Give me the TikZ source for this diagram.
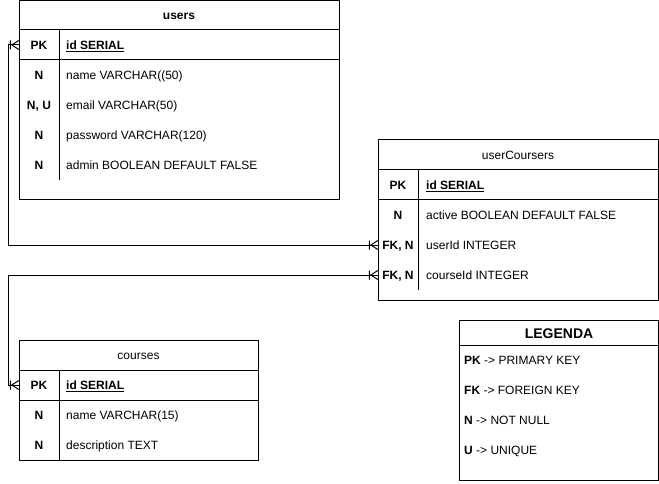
\documentclass[tikz,border=0pt]{standalone}
\usepackage{fontspec}
\setmainfont{Liberation Sans}
\usetikzlibrary{arrows.meta}

% crow's foot (one or many) for the relations
\pgfdeclarearrow{
  name = ER Many,
  setup code = {
    \pgfarrowssettipend{0pt}
    \pgfarrowssetlineend{0pt}
    \pgfarrowssetvisualbackend{-9pt}
    \pgfarrowssetbackend{-9pt}
    \pgfarrowshullpoint{0pt}{4.5pt}
    \pgfarrowshullpoint{0pt}{-4.5pt}
    \pgfarrowshullpoint{-9pt}{4.5pt}
    \pgfarrowshullpoint{-9pt}{-4.5pt}
  },
  drawing code = {
    \pgfsetdash{}{0pt}
    \pgfpathmoveto{\pgfqpoint{0pt}{4.5pt}}
    \pgfpathlineto{\pgfqpoint{-7pt}{0pt}}
    \pgfpathlineto{\pgfqpoint{0pt}{-4.5pt}}
    \pgfpathmoveto{\pgfqpoint{-8.5pt}{4.5pt}}
    \pgfpathlineto{\pgfqpoint{-8.5pt}{-4.5pt}}
    \pgfusepathqstroke
  },
  defaults = {}
}

\tikzset{
  table/.style={line width=1pt},
  title/.style={inner sep=0pt, text height=11pt, text depth=1.5pt,
    font=\fontsize{12}{14}\selectfont},
  keycell/.style={minimum width=40pt, minimum height=30pt, inner sep=0pt,
    text height=11pt, text depth=1.5pt, font=\fontsize{12}{14}\selectfont\bfseries},
  field/.style={anchor=west, inner sep=0pt, text height=11pt, text depth=1.5pt,
    font=\fontsize{12}{14}\selectfont},
  relation/.style={line width=1pt, {ER Many}-{ER Many}}
}

\begin{document}
\begin{tikzpicture}[x=1pt,y=-1pt]

% white page
\useasboundingbox [fill=white] (0,0) rectangle (659,484);

% table users
\draw [table] (19,0.5) rectangle (339,200);
\draw [table] (19,30) -- (339,30);
\draw [table] (19,60) -- (339,60);
\draw [table] (59,30) -- (59,180);
\node [title,font=\fontsize{12}{14}\selectfont\bfseries] (u-title) at (179,15) {users};
\node [keycell] (u-pk) at (39,45) {PK};
\node [field,font=\fontsize{12}{14}\selectfont\bfseries] (u-id) at (66,45) {\underline{id SERIAL}};
\node [keycell] (u-k1) at (39,75) {N};
\node [field] (u-name) at (66,75) {name VARCHAR((50)};
\node [keycell] (u-k2) at (39,105) {N, U};
\node [field] (u-email) at (66,105) {email VARCHAR(50)};
\node [keycell] (u-k3) at (39,135) {N};
\node [field] (u-pass) at (66,135) {password VARCHAR(120)};
\node [keycell] (u-k4) at (39,165) {N};
\node [field] (u-admin) at (66,165) {admin BOOLEAN DEFAULT FALSE};

% table userCoursers
\draw [table] (378,140) rectangle (658.5,300);
\draw [table] (378,170) -- (658.5,170);
\draw [table] (378,200) -- (658.5,200);
\draw [table] (418,170) -- (418,290);
\node [title] (uc-title) at (518,155) {userCoursers};
\node [keycell] (uc-pk) at (398,185) {PK};
\node [field,font=\fontsize{12}{14}\selectfont\bfseries] (uc-id) at (426,185) {\underline{id SERIAL}};
\node [keycell] (uc-k1) at (398,215) {N};
\node [field] (uc-active) at (426,215) {active BOOLEAN DEFAULT FALSE};
\node [keycell] (uc-fk1) at (398,245) {FK, N};
\node [field] (uc-user) at (426,245) {userId INTEGER};
\node [keycell] (uc-fk2) at (398,275) {FK, N};
\node [field] (uc-course) at (426,275) {courseId INTEGER};

% table courses
\draw [table] (19,340) rectangle (258,460);
\draw [table] (19,370) -- (258,370);
\draw [table] (19,400) -- (258,400);
\draw [table] (59,370) -- (59,460);
\node [title] (c-title) at (138.5,355) {courses};
\node [keycell] (c-pk) at (39,385) {PK};
\node [field,font=\fontsize{12}{14}\selectfont\bfseries] (c-id) at (66,385) {\underline{id SERIAL}};
\node [keycell] (c-k1) at (39,415) {N};
\node [field] (c-name) at (66,415) {name VARCHAR(15)};
\node [keycell] (c-k2) at (39,445) {N};
\node [field] (c-desc) at (66,445) {description TEXT};

% legend
\draw [table] (459,320) rectangle (658.5,480);
\draw [table] (459,345) -- (658.5,345);
\node [title,font=\fontsize{14}{16}\selectfont\bfseries] (l-title) at (559,334) {LEGENDA};
\node [field] (l-pk) at (464,360) {\textbf{PK} -> PRIMARY KEY};
\node [field] (l-fk) at (464,390) {\textbf{FK} -> FOREIGN KEY};
\node [field] (l-n) at (464,420) {\textbf{N} -> NOT NULL};
\node [field] (l-u) at (464,450) {\textbf{U} -> UNIQUE};

% relations
\coordinate (lane) at (8,0);
\draw [relation] (uc-fk1.west) -- (lane |- uc-fk1.west) |- (u-pk.west);
\draw [relation] (uc-fk2.west) -- (lane |- uc-fk2.west) |- (c-pk.west);

\end{tikzpicture}
\end{document}
